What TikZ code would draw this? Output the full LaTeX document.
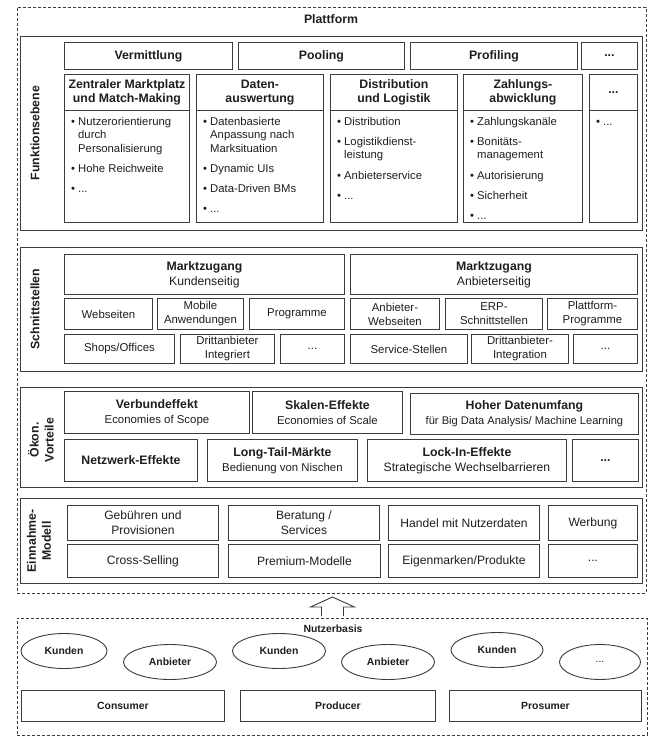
\documentclass[tikz,border=0pt]{standalone}
\usepackage{fontspec}
\setmainfont{Liberation Sans}
\usetikzlibrary{shapes.geometric}
\definecolor{lineC}{RGB}{60, 60, 60}
\definecolor{textC}{RGB}{30, 30, 30}
\newcommand{\itemdot}{\strut\makebox[7pt][l]{\textbullet}}
\newcommand{\itemind}{\hspace*{7pt}}
\newcommand{\hdtext}[1]{{\fontsize{12.3}{15}\selectfont\bfseries #1}}

\begin{document}
\begin{tikzpicture}[x=1pt, y=-1pt,
  span/.style n args={4}{at={(#1,#2)}, anchor=north west,
    minimum width={(#3-#1)*1pt}, minimum height={(#4-#2)*1pt}},
  cell/.style={draw=lineC, line width=0.9pt, inner sep=0pt, align=center,
    text=textC, font=\fontsize{11.4}{14}\selectfont},
  cellhd/.style={cell, font=\fontsize{12.3}{14}\selectfont\bfseries},
  cellbig/.style={cell, font=\fontsize{12.1}{15}\selectfont},
  userbox/.style={cell, font=\fontsize{10.4}{12}\selectfont\bfseries},
  group/.style={draw=lineC, line width=1.2pt, inner sep=0pt},
  dashbox/.style={draw=lineC, line width=0.9pt, dash pattern=on 3pt off 2pt, inner sep=0pt},
  hd/.style={font=\fontsize{12.3}{15}\selectfont\bfseries, text=textC, inner sep=0pt, align=center},
  list/.style={font=\fontsize{11.3}{13.6}\selectfont, text=textC, align=left,
    inner sep=0pt, anchor=north west},
  ell/.style={draw=lineC, line width=0.9pt, ellipse, inner sep=0pt, text=textC,
    font=\fontsize{10.4}{12}\selectfont\bfseries}]
  \useasboundingbox (0,0) rectangle (663,750);

  % --- Plattform ---
  \node[dashbox, span={17}{7}{646}{593}] (plat) {};
  \node[hd] (plat-lbl) at (331,19) {Plattform};

  % --- Funktionsebene ---
  \node[group, span={20}{36}{641.5}{230}] (funk) {};
  \node[hd, rotate=90] (funk-lbl) at (35,133) {Funktionsebene};
  \node[cellhd, span={64}{42}{232}{69}] (verm) {Vermittlung};
  \node[cellhd, span={238}{42}{404}{69}] (pool) {Pooling};
  \node[cellhd, span={410}{42}{577}{69}] (prof) {Profiling};
  \node[cellhd, span={581}{42}{637}{69}] (fdots) {...};
  % column heads and bodies
  \node[cellhd, span={64}{74}{189}{110}] (zmm) {Zentraler Marktplatz\\und Match-Making};
  \node[cell, span={64}{110}{189}{222}] (zmm-b) {};
  \node[cellhd, span={196}{74}{323}{110}] (dat) {Daten-\\auswertung};
  \node[cell, span={196}{110}{323}{222}] (dat-b) {};
  \node[cellhd, span={330}{74}{457}{110}] (dist) {Distribution\\und Logistik};
  \node[cell, span={330}{110}{457}{222}] (dist-b) {};
  \node[cellhd, span={463}{74}{582}{110}] (zahl) {Zahlungs-\\abwicklung};
  \node[cell, span={463}{110}{582}{222}] (zahl-b) {};
  \node[cellhd, span={589}{74}{637}{110}] (cdots) {...};
  \node[cell, span={589}{110}{637}{222}] (cdots-b) {};
  % bullet lists
  \node[list] (zmm-l) at (71,115.5) {\itemdot Nutzerorientierung\\\itemind durch\\\itemind Personalisierung\\[6.5pt]
    \itemdot Hohe Reichweite\\[6.5pt]\itemdot ...};
  \node[list] (dat-l) at (203,115.5) {\itemdot Datenbasierte\\\itemind Anpassung nach\\\itemind Marksituation\\[6.5pt]
    \itemdot Dynamic UIs\\[6.5pt]\itemdot Data-Driven BMs\\[6.5pt]\itemdot ...};
  \node[list] (dist-l) at (337,115.5) {\itemdot Distribution\\[6.5pt]\itemdot Logistikdienst-\\\itemind leistung\\[6.5pt]
    \itemdot Anbieterservice\\[6.5pt]\itemdot ...};
  \node[list] (zahl-l) at (470,115.5) {\itemdot Zahlungskanäle\\[6.5pt]\itemdot Bonitäts-\\\itemind management\\[6.5pt]
    \itemdot Autorisierung\\[6.5pt]\itemdot Sicherheit\\[6.5pt]\itemdot ...};
  \node[list] (cdots-l) at (596,115.5) {\itemdot ...};

  % --- Schnittstellen ---
  \node[group, span={20}{247}{641.5}{371}] (schn) {};
  \node[hd, rotate=90] (schn-lbl) at (35,309) {Schnittstellen};
  \node[cell, font=\fontsize{12.2}{15}\selectfont, span={64}{254}{344}{294}] (mz-kd) {\hdtext{Marktzugang}\\Kundenseitig};
  \node[cell, font=\fontsize{12.2}{15}\selectfont, span={350}{254}{637}{294}] (mz-ab) {\hdtext{Marktzugang}\\Anbieterseitig};
  \node[cell, span={64}{298}{152}{329}] (web) {Webseiten};
  \node[cell, span={157}{298}{243}{329}] (mob) {Mobile\\Anwendungen};
  \node[cell, span={249}{298}{344}{329}] (prog) {Programme};
  \node[cell, span={350}{298}{439}{329}] (aweb) {Anbieter-\\Webseiten};
  \node[cell, span={445}{298}{542}{329}] (erp) {ERP-\\Schnittstellen};
  \node[cell, span={547}{298}{637}{329}] (pprog) {Plattform-\\Programme};
  \node[cell, span={64}{334}{174}{363}] (shops) {Shops/Offices};
  \node[cell, span={180}{334}{274}{363}] (dint) {Drittanbieter\\Integriert};
  \node[cell, span={280}{334}{344}{363}] (sdots) {...};
  \node[cell, span={350}{334}{467}{363}] (serv) {Service-Stellen};
  \node[cell, span={471}{334}{568}{363}] (dinteg) {Drittanbieter-\\Integration};
  \node[cell, span={573}{334}{637}{363}] (sdots2) {...};

  % --- Oekonomische Vorteile ---
  \node[group, span={20}{387}{641.5}{487}] (oek) {};
  \node[hd, rotate=90] (oek-lbl) at (41,440) {Ökon.\\Vorteile};
  \node[cell, span={64}{391}{249}{433}] (verb) {\hdtext{Verbundeffekt}\\[1pt]Economies of Scope};
  \node[cell, span={252}{391}{402}{433}] (skal) {\hdtext{Skalen-Effekte}\\[1pt]Economies of Scale};
  \node[cell, span={410}{393}{638}{434}] (hoch) {\hdtext{Hoher Datenumfang}\\[1pt]{\fontsize{11.1}{14}\selectfont für Big Data Analysis/ Machine Learning}};
  \node[cellhd, span={64}{439}{197}{481}] (netz) {Netzwerk-Effekte};
  \node[cell, span={207}{439}{357}{481}] (long) {\hdtext{Long-Tail-Märkte}\\[1pt]Bedienung von Nischen};
  \node[cell, span={367}{439}{566}{481}] (lock) {\hdtext{Lock-In-Effekte}\\[1pt]{\fontsize{12.2}{14}\selectfont Strategische Wechselbarrieren}};
  \node[cellhd, span={572}{439}{638}{481}] (odots) {...};

  % --- Einnahmemodell ---
  \node[group, span={20}{498}{641.5}{583}] (einn) {};
  \node[hd, rotate=90] (einn-lbl) at (39,541) {Einnahme-\\Modell};
  \node[cellbig, span={67}{505}{218}{540}] (geb) {Gebühren und\\Provisionen};
  \node[cellbig, span={228}{505}{379}{540}] (ber) {Beratung /\\Services};
  \node[cellbig, span={388}{505}{539}{540}] (hand) {Handel mit Nutzerdaten};
  \node[cellbig, span={548}{505}{637}{540}] (werb) {Werbung};
  \node[cellbig, span={67}{544}{218}{577}] (cross) {Cross-Selling};
  \node[cellbig, span={228}{544}{380}{577}] (prem) {Premium-Modelle};
  \node[cellbig, span={388}{544}{539}{577}] (eigen) {Eigenmarken/Produkte};
  \node[cellbig, span={548}{544}{637}{577}] (edots) {...};

  % --- Nutzerbasis ---
  \node[dashbox, span={17}{618}{647}{735}] (nutz) {};
  \node[font=\fontsize{10.4}{12}\selectfont\bfseries, text=textC, inner sep=0pt] (nutz-lbl) at (333,629) {Nutzerbasis};
  \node[ell, minimum width=86pt, minimum height=35pt] (kd1) at (64,651) {Kunden};
  \node[ell, minimum width=93pt, minimum height=35pt] (ab1) at (170,662) {Anbieter};
  \node[ell, minimum width=93pt, minimum height=35pt] (kd2) at (279,651) {Kunden};
  \node[ell, minimum width=93pt, minimum height=35pt] (ab2) at (388,662) {Anbieter};
  \node[ell, minimum width=92pt, minimum height=35pt] (kd3) at (497,650) {Kunden};
  \node[ell, minimum width=81pt, minimum height=35pt, font=\fontsize{10.4}{12}\selectfont] (ndots) at (600,662) {...};
  \node[userbox, span={21}{690}{224}{721}] (cons) {Consumer};
  \node[userbox, span={240}{690}{435}{721}] (prod) {Producer};
  \node[userbox, span={449}{690}{641}{721}] (pros) {Prosumer};

  % hollow arrow Nutzerbasis -> Plattform
  \begin{scope}[shift={(nutz.north)}]
    \draw[lineC, line width=0.9pt, line join=miter]
      (-11,-2) -- (-11,-11) -- (-22,-11) -- (0,-21) -- (22,-11) -- (11,-11) -- (11,-2);
  \end{scope}
\end{tikzpicture}
\end{document}
